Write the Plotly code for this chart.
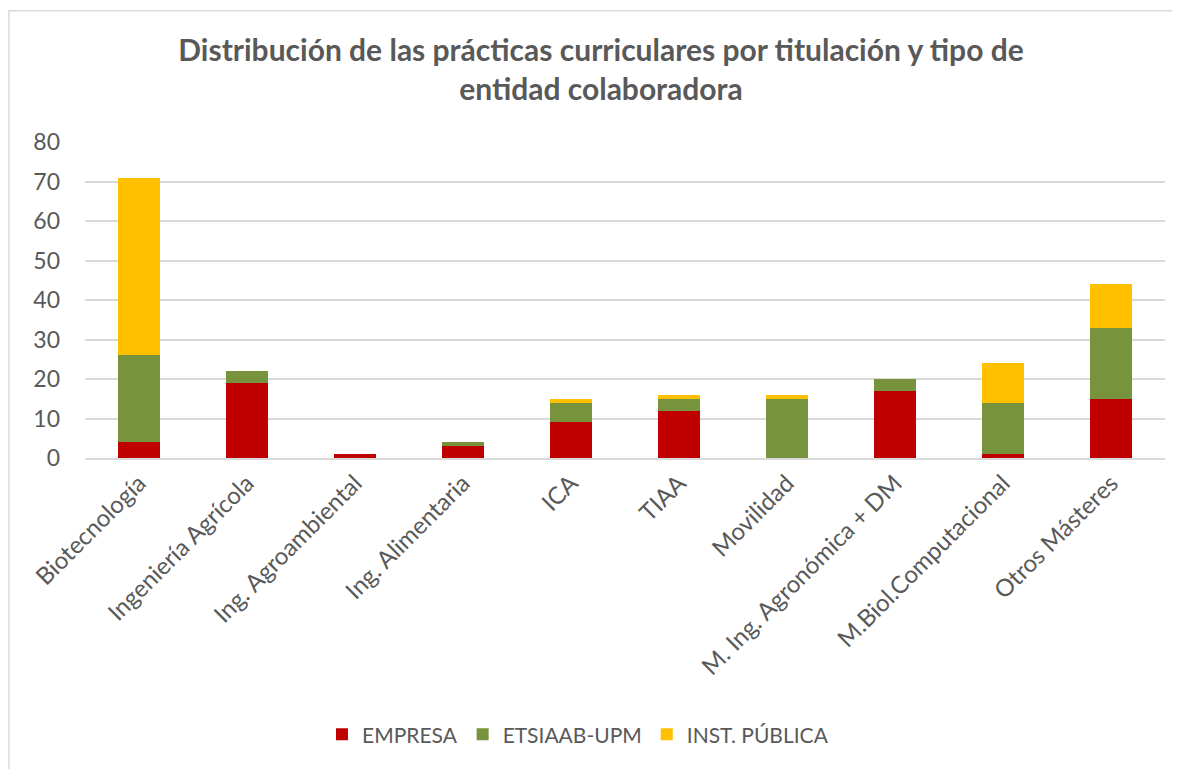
import plotly.graph_objects as go

categories = ["Biotecnología", "Ingeniería Agrícola", "Ing. Agroambiental", "Ing. Alimentaria",
              "ICA", "TIAA", "Movilidad", "M. Ing. Agronómica + DM", "M.Biol.Computacional",
              "Otros Másteres"]
empresa = [4, 19, 1, 3, 9, 12, 0, 17, 1, 15]
etsiaab = [22, 3, 0, 1, 5, 3, 15, 3, 13, 18]
inst_publica = [45, 0, 0, 0, 1, 1, 1, 0, 10, 11]
series_names = ["EMPRESA", "ETSIAAB-UPM", "INST. PÚBLICA"]
colors = ["#C00000", "#77933C", "#FFC000"]

W, H = 1180, 769
# page is drawn with an 8px body offset; compensate
off = 8
ml, mt = 85 - off, 142.3 - off
mr = W - (1165 - off)
mb = H - (458.3 - off)
pw, ph = W - ml - mr, H - mt - mb

fig = go.Figure()
for name, vals, col in zip(series_names, [empresa, etsiaab, inst_publica], colors):
    fig.add_trace(go.Bar(name=name, x=categories, y=vals, marker=dict(color=col, line=dict(width=0))))

font = "Lato, 'Open Sans', sans-serif"
fig.update_layout(
    barmode="stack",
    bargap=0.61,
    width=W, height=H,
    margin=dict(l=ml, r=mr, t=mt, b=mb, autoexpand=False),
    paper_bgcolor="white", plot_bgcolor="white",
    font=dict(family=font, color="#595959"),
    title=dict(text="<b>Distribución de las prácticas curriculares por titulación y tipo de<br>entidad colaboradora</b>",
               x=(601 - off) / W, xanchor="center", y=1 - (61 - off) / H, yanchor="middle",
               font=dict(size=30, color="#595959", family=font)),
    yaxis=dict(range=[0, 80], dtick=10, showgrid=True, gridcolor="#D9D9D9", gridwidth=1.5,
               zeroline=False, tickfont=dict(size=23, color="#595959"), ticks="", ticklen=0,
               showline=False, ticklabelstandoff=24),
    xaxis=dict(tickangle=-45, tickfont=dict(size=24, color="#595959"), showline=True,
               linecolor="#D9D9D9", linewidth=1.5, ticks=""),
    legend=dict(orientation="h", x=((578 - off) - ml) / pw, xanchor="center",
                y=-((735 - off) - (458.3 - off)) / ph,
                yanchor="middle", font=dict(size=21, color="#595959"), traceorder="normal"),
    showlegend=True,
)
fig.add_shape(type="rect", xref="paper", yref="paper",
              x0=(1 - ml) / pw, x1=(W + 20 - ml) / pw,
              y0=-(H + 20 - (mt + ph)) / ph, y1=((mt + ph) - 3) / ph,
              line=dict(color="#D9D9D9", width=1.5), layer="below")
fig.write_html("out.html")
